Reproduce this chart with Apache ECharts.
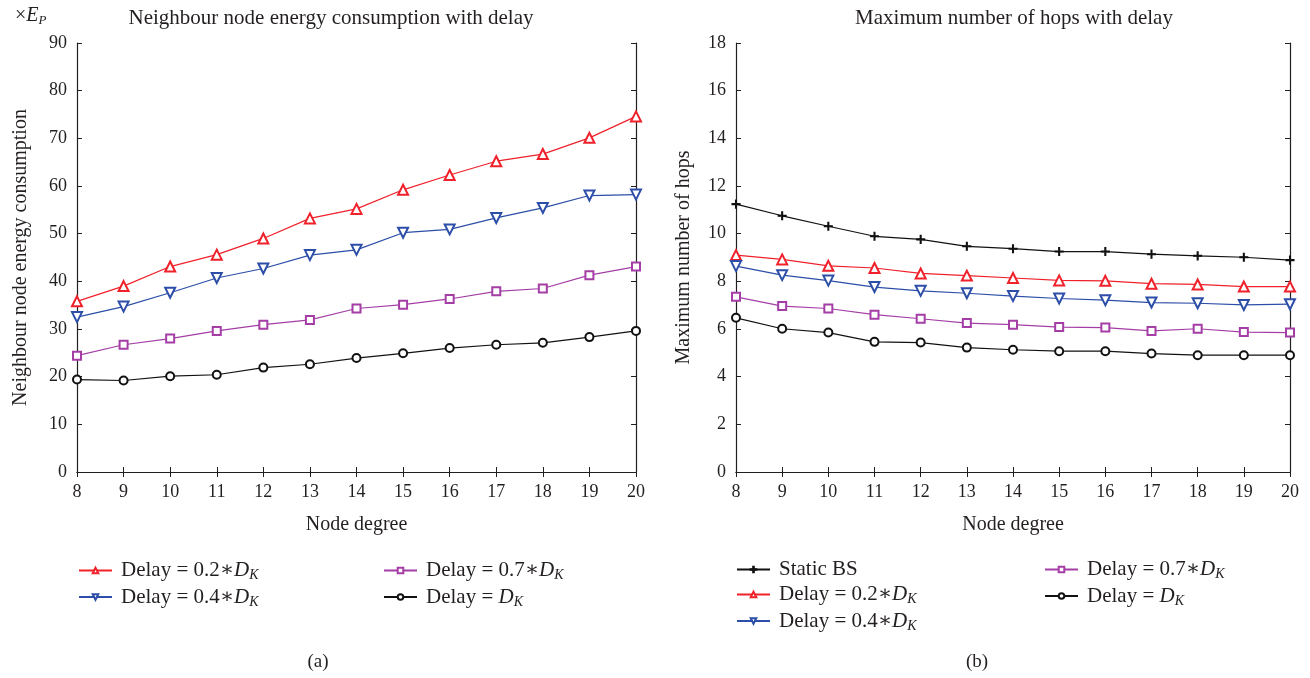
<!DOCTYPE html>
<html>
<head>
<meta charset="utf-8">
<script src="https://cdn.jsdelivr.net/npm/echarts@6/dist/echarts.min.js"></script>
<style>
html,body{margin:0;padding:0;background:#fff;}
#c{width:1310px;height:678px;}
</style>
</head>
<body>
<div id="c"></div>
<script>
// ---------- data ----------
const nodeDegree = [8, 9, 10, 11, 12, 13, 14, 15, 16, 17, 18, 19, 20];

// (a) Neighbour node energy consumption (x E_P)
const energyDelay02 = [35.8, 39.0, 43.1, 45.6, 49.0, 53.2, 55.2, 59.2, 62.3, 65.2, 66.7, 70.1, 74.6];
const energyDelay04 = [32.5, 34.7, 37.6, 40.7, 42.7, 45.5, 46.6, 50.2, 50.9, 53.3, 55.4, 58.0, 58.2];
const energyDelay07 = [24.4, 26.7, 28.0, 29.6, 30.9, 31.9, 34.3, 35.1, 36.3, 37.9, 38.5, 41.3, 43.1];
const energyDelay10 = [19.4, 19.2, 20.1, 20.4, 21.9, 22.6, 23.9, 24.9, 26.0, 26.7, 27.1, 28.3, 29.6];

// (b) Maximum number of hops
const hopsStaticBS = [11.24, 10.75, 10.31, 9.89, 9.76, 9.47, 9.37, 9.25, 9.25, 9.14, 9.07, 9.01, 8.89];
const hopsDelay02  = [9.10, 8.92, 8.65, 8.56, 8.33, 8.24, 8.14, 8.04, 8.02, 7.90, 7.87, 7.78, 7.78];
const hopsDelay04  = [8.64, 8.26, 8.03, 7.76, 7.60, 7.50, 7.38, 7.28, 7.21, 7.11, 7.08, 7.01, 7.04];
const hopsDelay07  = [7.35, 6.96, 6.86, 6.60, 6.43, 6.25, 6.18, 6.08, 6.06, 5.92, 6.01, 5.87, 5.85];
const hopsDelay10  = [6.47, 6.01, 5.85, 5.46, 5.43, 5.22, 5.13, 5.07, 5.07, 4.97, 4.90, 4.90, 4.90];

const xTicks = { min: 8, max: 20, interval: 1 };
const yTicksA = { min: 0, max: 90, interval: 10 };
const yTicksB = { min: 0, max: 18, interval: 2 };

const names = {
  s: 'Static BS',
  d02: 'Delay = 0.2*DK',
  d04: 'Delay = 0.4*DK',
  d07: 'Delay = 0.7*DK',
  d10: 'Delay = DK'
};
// ---------- style ----------
const FONT = '"Liberation Serif", "DejaVu Serif", serif';
const TXT = '#231f20';
const AX = '#231f20';
const RED = '#f0212a', BLUE = '#2c4ea8', PURPLE = '#a43ea6', BLACK = '#111111';

const pairs = ys => ys.map((v, i) => [nodeDegree[i], v]);

function gridAxes(gi, yt, yName, yNameGap) {
  const tick = { show: true, inside: true, length: 5, lineStyle: { color: AX, width: 1 } };
  const line = { show: true, lineStyle: { color: AX, width: 1.2 } };
  const lab = { color: TXT, fontFamily: FONT, fontSize: 18 };
  return {
    x: [
      { gridIndex: gi, type: 'value', min: xTicks.min, max: xTicks.max, interval: xTicks.interval,
        axisLine: line, axisTick: tick, splitLine: { show: false },
        axisLabel: Object.assign({ margin: 11 }, lab),
        name: 'Node degree', nameLocation: 'middle', nameGap: 43,
        nameTextStyle: { color: TXT, fontFamily: FONT, fontSize: 20 } },
      { gridIndex: gi, type: 'value', position: 'top', min: xTicks.min, max: xTicks.max, interval: xTicks.interval,
        axisLine: line, axisTick: tick, splitLine: { show: false }, axisLabel: { show: false } }
    ],
    y: [
      { gridIndex: gi, type: 'value', min: yt.min, max: yt.max, interval: yt.interval,
        axisLine: line, axisTick: tick, splitLine: { show: false },
        axisLabel: Object.assign({ margin: 10 }, lab),
        name: yName, nameLocation: 'middle', nameGap: yNameGap, nameRotate: 90,
        nameTextStyle: { color: TXT, fontFamily: FONT, fontSize: 20 } },
      { gridIndex: gi, type: 'value', position: 'right', min: yt.min, max: yt.max, interval: yt.interval,
        axisLine: line, axisTick: tick, splitLine: { show: false }, axisLabel: { show: false } }
    ]
  };
}

const A = gridAxes(0, yTicksA, 'Neighbour node energy consumption', 46);
const B = gridAxes(1, yTicksB, 'Maximum number of hops', 42);

function ser(name, data, color, symbol, size, rot, xi, yi) {
  return {
    name, type: 'line', xAxisIndex: xi, yAxisIndex: yi, data: pairs(data),
    symbol, symbolSize: size, symbolRotate: rot || 0, showSymbol: true,
    lineStyle: { color, width: 1.2 }, itemStyle: { color, borderColor: color, borderWidth: 1.1 },
    animation: false
  };
}
const PLUS = 'path://M4.4,0H5.6V4.4H10V5.6H5.6V10H4.4V5.6H0V4.4H4.4Z';

const rich = {
  n: { fontFamily: FONT, fontSize: 21, color: TXT },
  i: { fontFamily: FONT, fontSize: 21, color: TXT, fontStyle: 'italic' },
  k: { fontFamily: FONT, fontSize: 14, color: TXT, fontStyle: 'italic', padding: [10, 0, 0, 0] }
};
function legendFmt(name) {
  if (name === names.s) return '{n|Static BS}';
  const m = name.match(/^Delay = (.*?)\*?DK$/);
  const pre = m[1] ? m[1] + '∗' : '';
  return '{n|Delay = ' + pre + '}{i|D}{k|K}';
}
function legend(left, top, data) {
  return {
    left, top, orient: 'vertical', data, itemWidth: 33, itemHeight: 7, itemGap: 4,
    formatter: legendFmt, selectedMode: false,
    textStyle: { rich, fontFamily: FONT, fontSize: 21, color: TXT, padding: [0, 0, 0, 4] }
  };
}

const option = {
  backgroundColor: '#ffffff',
  animation: false,
  textStyle: { fontFamily: FONT },
  grid: [
    { left: 77, right: 674, top: 43, bottom: 206 },
    { left: 736, right: 20, top: 43, bottom: 206 }
  ],
  xAxis: A.x.concat(B.x.map(a => Object.assign(a, { gridIndex: 1 }))),
  yAxis: A.y.concat(B.y.map(a => Object.assign(a, { gridIndex: 1 }))),
  legend: [
    legend(73, 555, [names.d02, names.d04]),
    legend(378, 555, [names.d07, names.d10]),
    legend(731, 554, [names.s, names.d02, names.d04]),
    legend(1039, 554, [names.d07, names.d10])
  ],
  series: [
    ser(names.d02, energyDelay02, RED, 'emptyTriangle', 10, 0, 0, 0),
    ser(names.d04, energyDelay04, BLUE, 'emptyTriangle', 10, 180, 0, 0),
    ser(names.d07, energyDelay07, PURPLE, 'emptyRect', 8, 0, 0, 0),
    ser(names.d10, energyDelay10, BLACK, 'emptyCircle', 8, 0, 0, 0),
    ser(names.s, hopsStaticBS, BLACK, PLUS, 8, 0, 2, 2),
    ser(names.d02, hopsDelay02, RED, 'emptyTriangle', 10, 0, 2, 2),
    ser(names.d04, hopsDelay04, BLUE, 'emptyTriangle', 10, 180, 2, 2),
    ser(names.d07, hopsDelay07, PURPLE, 'emptyRect', 8, 0, 2, 2),
    ser(names.d10, hopsDelay10, BLACK, 'emptyCircle', 8, 0, 2, 2)
  ],
  graphic: [
    { type: 'text', x: 331, y: 18, style: { text: 'Neighbour node energy consumption with delay', font: '21px ' + FONT, fill: TXT, align: 'center', verticalAlign: 'middle' } },
    { type: 'text', x: 1014, y: 18, style: { text: 'Maximum number of hops with delay', font: '21px ' + FONT, fill: TXT, align: 'center', verticalAlign: 'middle' } },
    { type: 'text', x: 15, y: 5, style: { text: '×{i|E}{k|P}', fontFamily: FONT, fontSize: 20, fill: TXT,
        rich: { i: { fontFamily: FONT, fontSize: 20, fontStyle: 'italic', fill: TXT }, k: { fontFamily: FONT, fontSize: 13, fontStyle: 'italic', fill: TXT, padding: [9, 0, 0, 0] } } } },
    { type: 'text', x: 318, y: 662, style: { text: '(a)', font: '19px ' + FONT, fill: TXT, align: 'center', verticalAlign: 'middle' } },
    { type: 'text', x: 977, y: 662, style: { text: '(b)', font: '19px ' + FONT, fill: TXT, align: 'center', verticalAlign: 'middle' } }
  ]
};

const chart = echarts.init(document.getElementById('c'), null, { renderer: 'canvas' });
chart.setOption(option);
</script>
</body>
</html>
